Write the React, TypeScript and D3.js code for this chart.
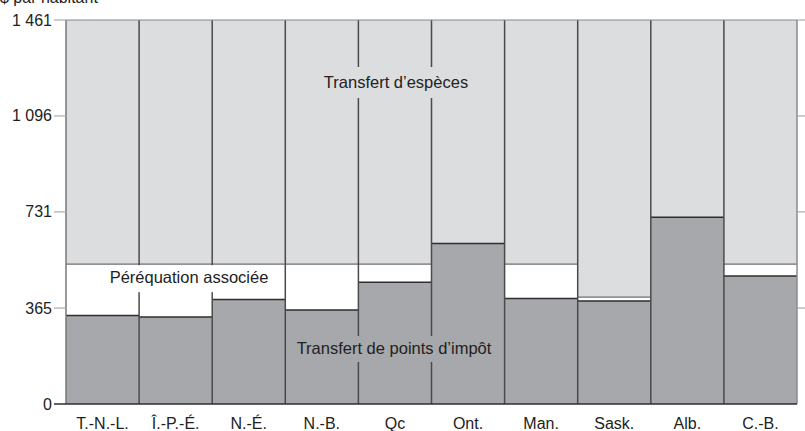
import React from 'react';
import * as d3 from 'd3';

const categories = ['T.-N.-L.', 'Î.-P.-É.', 'N.-É.', 'N.-B.', 'Qc', 'Ont.', 'Man.', 'Sask.', 'Alb.', 'C.-B.'];
const taxPoints = [337, 331, 398, 358, 463, 611, 401, 392, 711, 487];
const associatedEq = [195, 201, 134, 174, 69, 0, 131, 15, 0, 45];
const total = 1461;
const yTicks = [0, 365, 731, 1096, 1461];
const yTickLabels = ['0', '365', '731', '1 096', '1 461'];

const W = 805, H = 431;
const M = { left: 66, right: 797, top: 20, bottom: 404 };
const FONT = '"Liberation Sans", Arial, Helvetica, sans-serif';

export default function App() {
  const x = d3.scaleBand<string>().domain(categories).range([M.left, M.right]).padding(0);
  const y = d3.scaleLinear().domain([0, total]).range([M.bottom, M.top]);
  const bw = x.bandwidth();

  const rows = categories.map((c, i) => {
    const tax = taxPoints[i];
    const eqTop = tax + associatedEq[i];
    return { c, tax, eqTop };
  });

  return (
    <svg width={W} height={H} style={{ position: 'absolute', left: 0, top: 0 }} fontFamily={FONT}>
      {rows.map((r) => (
        <g key={r.c}>
          <rect x={x(r.c)} y={y(total)} width={bw} height={y(r.eqTop) - y(total)} fill="#dcdddf" />
          <rect x={x(r.c)} y={y(r.eqTop)} width={bw} height={y(r.tax) - y(r.eqTop)} fill="#ffffff" />
          <rect x={x(r.c)} y={y(r.tax)} width={bw} height={y(0) - y(r.tax)} fill="#a7a8ab" />
        </g>
      ))}
      {rows.map((r) => (
        <g key={'l' + r.c}>
          {r.eqTop > r.tax && (
            <line x1={x(r.c)} x2={x(r.c)! + bw} y1={y(r.eqTop)} y2={y(r.eqTop)} stroke="#6e6e70" strokeWidth={1.2} />
          )}
          <line x1={x(r.c)} x2={x(r.c)! + bw} y1={y(r.tax)} y2={y(r.tax)} stroke="#2e2e30" strokeWidth={1.5} />
        </g>
      ))}
      {categories.map((c, i) => (
        <line key={'s' + c} x1={x(c)} x2={x(c)} y1={y(total)} y2={y(0)} stroke={i === 0 ? '#777' : '#4a4a4c'} strokeWidth={1.5} />
      ))}
      <line x1={M.right} x2={M.right} y1={y(total)} y2={y(0)} stroke="#8a8a8c" strokeWidth={1.5} />
      <line x1={M.left} x2={M.right} y1={y(total)} y2={y(total)} stroke="#8a8a8c" strokeWidth={1.2} />

      <rect x={314} y={67} width={164} height={31} fill="#dcdddf" />
      <text x={396} y={88} textAnchor="middle" fontSize={16.5} fill="#222">Transfert d’espèces</text>

      <rect x={100} y={y(532) + 1} width={178} height={27} fill="#ffffff" />
      <text x={189} y={283} textAnchor="middle" fontSize={16.5} fill="#222">Péréquation associée</text>

      <rect x={289} y={336} width={210} height={26} fill="#a7a8ab" />
      <text x={394} y={354} textAnchor="middle" fontSize={16.5} fill="#222">Transfert de points d’impôt</text>

      <line x1={M.left - 12} x2={M.right} y1={y(0)} y2={y(0)} stroke="#2e2e30" strokeWidth={1.5} />
      {yTicks.map((t, i) => (
        <g key={'t' + t}>
          {i > 0 && <line x1={M.left - 12} x2={M.left} y1={y(t)} y2={y(t)} stroke="#aaa" strokeWidth={1.2} />}
          {i > 0 && <line x1={M.right} x2={W} y1={y(t)} y2={y(t)} stroke="#aaa" strokeWidth={1.2} />}
          <text x={M.left - 14} y={y(t) + 5.5} textAnchor="end" fontSize={16} fill="#222">{yTickLabels[i]}</text>
        </g>
      ))}
      <text x={0} y={3} fontSize={16} fill="#222">$ par habitant</text>
      {categories.map((c) => (
        <text key={'x' + c} x={x(c)! + bw / 2} y={429} textAnchor="middle" fontSize={16} fill="#222">{c}</text>
      ))}
    </svg>
  );
}
